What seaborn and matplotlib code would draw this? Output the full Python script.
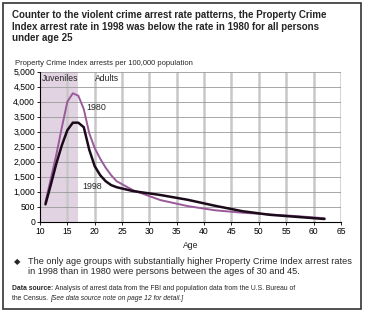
import pandas as pd
import matplotlib.pyplot as plt
import seaborn as sns
from matplotlib.patches import Rectangle

# Dữ liệu
ages = [11, 12, 13, 14, 15, 16, 17, 18, 19, 20, 21, 22, 23, 24, 27, 32, 37, 42, 47, 52, 57, 62]
rate_1980 = [650, 1450, 2250, 3150, 4000, 4280, 4200, 3750, 2950, 2450, 2100, 1800, 1550, 1350,
             1050, 720, 520, 380, 300, 240, 185, 115]
rate_1998 = [580, 1250, 1950, 2550, 3050, 3300, 3300, 3150, 2400, 1850, 1550, 1350, 1220, 1150,
             1020, 890, 730, 530, 350, 230, 160, 90]
x_ticks = list(range(10, 70, 5))
y_ticks = list(range(0, 5500, 500))

sns.set_theme(style="white")
plt.rcParams['font.family'] = ['Liberation Sans', 'DejaVu Sans']

df = pd.DataFrame({'Age': ages * 2,
                   'Rate': rate_1980 + rate_1998,
                   'Year': ['1980'] * len(ages) + ['1998'] * len(ages)})

fig = plt.figure(figsize=(3.65, 3.13), dpi=100)
ax = fig.add_axes([0.1096, 0.2917, 0.8244, 0.4793])

# vùng vị thành niên
ax.axvspan(10, 17, color='#e2d3e2', zorder=0, lw=0)

sns.lineplot(data=df, x='Age', y='Rate', hue='Year',
             palette={'1980': '#9a5a9a', '1998': '#1a0a1a'},
             ax=ax, legend=False, zorder=3)
ax.lines[0].set_linewidth(1.4)
ax.lines[1].set_linewidth(1.8)

ax.set_xlim(10, 65)
ax.set_ylim(0, 5000)
ax.set_xticks(x_ticks)
ax.set_yticks(y_ticks)
ax.set_yticklabels([f'{v:,}' for v in y_ticks])
for x in x_ticks[1:]:
    ax.axvline(x, color='#c8c8c8', lw=1.8, zorder=1)
for y in y_ticks[1:]:
    ax.axhline(y, color='#9a9a9a', lw=0.6, zorder=1)

for s in ['top', 'right']:
    ax.spines[s].set_visible(False)
for s in ['left', 'bottom']:
    ax.spines[s].set_color('black')
    ax.spines[s].set_linewidth(0.8)
ax.tick_params(axis='both', labelsize=6.2, length=2.5, width=0.6, pad=1,
               left=True, bottom=True, colors='black')
ax.set_xlabel('Age', fontsize=6.2, labelpad=4)
ax.set_ylabel('')

ax.text(10.4, 4770, 'Juveniles', fontsize=6.2, va='center', ha='left')
ax.text(20, 4770, 'Adults', fontsize=6.2, va='center', ha='left')
ax.text(20.3, 3790, '1980', fontsize=6.4, va='center', ha='center')
ax.text(19.6, 1170, '1998', fontsize=6.4, va='center', ha='center')

fig.text(12 / 365, 1 - 10 / 313,
         'Counter to the violent crime arrest rate patterns, the Property Crime\n'
         'Index arrest rate in 1998 was below the rate in 1980 for all persons\n'
         'under age 25',
         fontsize=7.0, fontweight='bold', va='top', ha='left', linespacing=1.2)
fig.text(15 / 365, 1 - 63 / 313, 'Property Crime Index arrests per 100,000 population',
         fontsize=5.5, va='center', ha='left')

fig.text(14 / 365, 1 - 263 / 313, '\u25c6', fontsize=6, va='center', ha='left')
fig.text(28 / 365, 1 - 257 / 313,
         'The only age groups with substantially higher Property Crime Index arrest rates\n'
         'in 1998 than in 1980 were persons between the ages of 30 and 45.',
         fontsize=6.6, va='top', ha='left', linespacing=1.1)

# dòng nguồn dữ liệu: đặt phần chữ tiếp theo sau phần in đậm / nghiêng
renderer = fig.canvas.get_renderer()
inv = fig.transFigure.inverted()
t1 = fig.text(12 / 365, 1 - 288 / 313, 'Data source:', fontsize=4.9, fontweight='bold',
              va='center', ha='left')
x1 = inv.transform(t1.get_window_extent(renderer))[1][0]
fig.text(x1 + 2 / 365, 1 - 288 / 313,
         'Analysis of arrest data from the FBI and population data from the U.S. Bureau of',
         fontsize=4.9, va='center', ha='left')
t2 = fig.text(12 / 365, 1 - 299 / 313, 'the Census.', fontsize=4.9, va='center', ha='left')
x2 = inv.transform(t2.get_window_extent(renderer))[1][0]
fig.text(x2 + 2 / 365, 1 - 299 / 313, '[See data source note on page 12 for detail.]',
         fontsize=4.9, style='italic', va='center', ha='left')

fig.patches.append(Rectangle((3 / 365, 4 / 313), 358 / 365, 306 / 313,
                             transform=fig.transFigure, fill=False,
                             edgecolor='#333333', lw=1.2))

fig.savefig('out.png', dpi=100)
